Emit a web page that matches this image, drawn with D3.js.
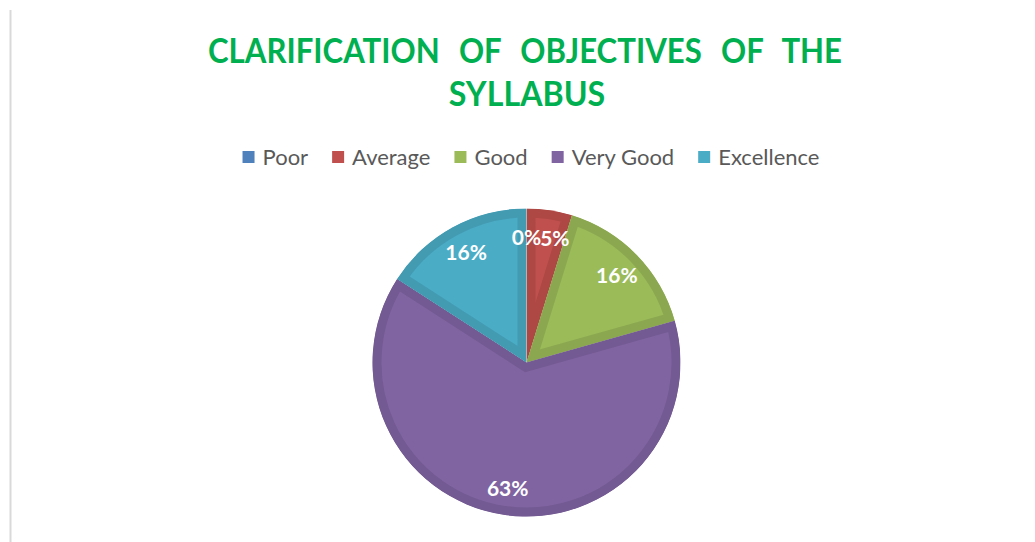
<!DOCTYPE html>
<html>
<head>
<meta charset="utf-8">
<script src="https://cdn.jsdelivr.net/npm/d3@7"></script>
<style>
  html, body { margin: 0; padding: 0; background: #ffffff; }
  svg { display: block; }
</style>
</head>
<body>
<svg id="chart" width="1035" height="542"></svg>
<script>
// ---- data ----
const titleLines = ["CLARIFICATION OF OBJECTIVES OF THE", "SYLLABUS"];
const categories = ["Poor", "Average", "Good", "Very Good", "Excellence"];
const counts = [0, 3, 10, 40, 10];
const colors = ["#4F81BD", "#C0504D", "#9BBB59", "#8064A2", "#4BACC6"];

// ---- layout ----
const W = 1035, H = 542;
const svg = d3.select("#chart");

// left frame line
svg.append("line")
  .attr("x1", 10.5).attr("x2", 10.5)
  .attr("y1", 10).attr("y2", H)
  .attr("stroke", "#d9d9d9").attr("stroke-width", 2);

// title (justified first line, slightly condensed)
const titleFont = "Lato, 'Open Sans', sans-serif";
const tLeft = 208, tRight = 842, sx = 0.89;
const g1 = svg.append("g").attr("transform", `translate(${tLeft},63) scale(${sx},1)`);
const t1 = g1.append("text")
  .attr("x", 0).attr("y", 0)
  .attr("font-family", titleFont).attr("font-weight", 700)
  .attr("font-size", 35).attr("fill", "#00B050")
  .text(titleLines[0]);
const natural = t1.node().getComputedTextLength();
const gaps = titleLines[0].split(" ").length - 1;
const ws = ((tRight - tLeft) / sx - natural) / gaps;
t1.attr("word-spacing", ws);
const g2 = svg.append("g").attr("transform", `translate(527,106) scale(${sx + 0.03},1)`);
g2.append("text")
  .attr("x", 0).attr("y", 0)
  .attr("text-anchor", "middle")
  .attr("font-family", titleFont).attr("font-weight", 700)
  .attr("font-size", 35).attr("fill", "#00B050")
  .text(titleLines[1]);

// legend
const legend = svg.append("g");
const legendFont = "Lato, 'Open Sans', sans-serif";
const items = [];
categories.forEach((c, i) => {
  const g = legend.append("g");
  g.append("rect").attr("x", 0).attr("y", -6).attr("width", 12).attr("height", 12)
    .attr("fill", colors[i]);
  const t = g.append("text").attr("x", 20).attr("y", 7.5)
    .attr("font-family", legendFont).attr("font-size", 22).attr("fill", "#595959")
    .text(c);
  const w = 20 + t.node().getComputedTextLength();
  items.push({ g, w });
});
const itemGap = 24;
const totalW = d3.sum(items, d => d.w) + itemGap * (items.length - 1);
let cx0 = 531 - totalW / 2;
items.forEach(it => {
  it.g.attr("transform", `translate(${cx0},157)`);
  cx0 += it.w + itemGap;
});

// pie
const cx = 526.5, cy = 362.5, R = 154;
const total = d3.sum(counts);
const pie = d3.pie().sort(null).value(d => d)(counts);
const arc = d3.arc().innerRadius(0).outerRadius(R);
const labelArc = d3.arc().innerRadius(R * 0.82).outerRadius(R * 0.82);

const pg = svg.append("g").attr("transform", `translate(${cx},${cy})`);
const defs = svg.append("defs");
pie.forEach((p, i) => {
  if (p.endAngle - p.startAngle <= 0) return;
  const d = arc(p);
  defs.append("clipPath").attr("id", "clip" + i)
    .append("path").attr("d", d);
  pg.append("path")
    .attr("d", d)
    .attr("fill", colors[i])
    .attr("stroke", d3.color(colors[i]).darker(0.3))
    .attr("stroke-width", 18)
    .attr("stroke-linejoin", "miter")
    .attr("clip-path", `url(#clip${i})`);
});

// labels, with simple left-to-right collision nudging
let prevBox = null;
pie.forEach((p, i) => {
  const [x, y] = labelArc.centroid(p);
  const t = pg.append("text")
    .attr("x", x).attr("y", y)
    .attr("text-anchor", "middle").attr("dominant-baseline", "central")
    .attr("font-family", "Lato, 'Open Sans', sans-serif")
    .attr("font-weight", 700).attr("font-size", 21).attr("fill", "#ffffff")
    .text(Math.round(counts[i] / total * 100) + "%");
  const b = t.node().getBBox();
  if (prevBox && Math.abs(b.y - prevBox.y) < b.height &&
      b.x < prevBox.x + prevBox.width && b.x + b.width > prevBox.x) {
    const shift = prevBox.x + prevBox.width - b.x - 1;
    t.attr("x", x + shift);
  }
  prevBox = t.node().getBBox();
});
</script>
</body>
</html>
